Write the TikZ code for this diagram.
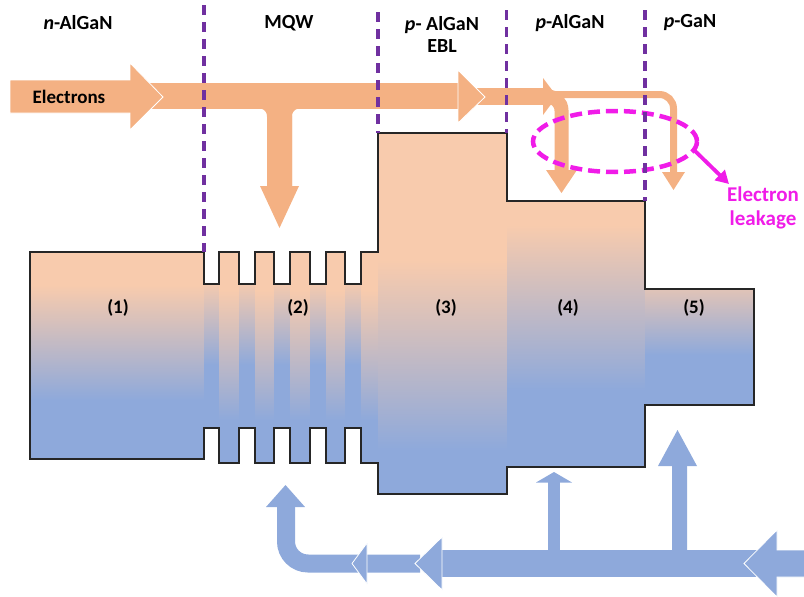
\documentclass[tikz,border=0pt]{standalone}
\usepackage{fontspec}
\setmainfont{Carlito}
\usetikzlibrary{arrows.meta}

\definecolor{peach}{HTML}{F8CBAD}
\definecolor{holeblue}{HTML}{8EA9DB}
\definecolor{elecorange}{HTML}{F4B183}
\definecolor{divpurple}{HTML}{7030A0}
\definecolor{leakpink}{HTML}{F01CE8}

% outline of the band profile (pixel units)
\newcommand{\deviceshape}{(30,252) -- (204,252) -- (204,284) -- (219,284) -- (219,252)
  -- (239,252) -- (239,284) -- (255,284) -- (255,252) -- (274,252) -- (274,284)
  -- (290,284) -- (290,252) -- (310,252) -- (310,284) -- (326,284) -- (326,252)
  -- (345,252) -- (345,284) -- (361,284) -- (361,252) -- (378,252) -- (378,133)
  -- (507,133) -- (507,201) -- (645,201) -- (645,289) -- (754,289) -- (754,405)
  -- (645,405) -- (645,467) -- (507,467) -- (507,494) -- (378,494) -- (378,463)
  -- (361,463) -- (361,428) -- (345,428) -- (345,463) -- (326,463) -- (326,428)
  -- (310,428) -- (310,463) -- (290,463) -- (290,428) -- (274,428) -- (274,463)
  -- (255,463) -- (255,428) -- (239,428) -- (239,463) -- (219,463) -- (219,428)
  -- (204,428) -- (204,459) -- (30,459) -- cycle}

% one column of the peach-to-blue fill: x1, x2, end of peach, start of blue
\newcommand{\gradcol}[4]{%
  \fill[peach] (#1,120) rectangle (#2+0.6,#3);
  \shade[top color=peach, bottom color=holeblue] (#1,#3) rectangle (#2+0.6,#4);
  \fill[holeblue] (#1,#4) rectangle (#2+0.6,500);}

\begin{document}
\begin{tikzpicture}[x=1pt, y=-1pt,
  layer/.style={font=\bfseries\fontsize{20}{22}\selectfont, align=center, text=black},
  regionlbl/.style={font=\bfseries\fontsize{19}{22}\selectfont, text=black},
  divider/.style={divpurple, line width=3.2pt, dash pattern=on 10pt off 7pt},
  eband/.style={elecorange},
  ehead/.style={fill=elecorange, draw=white, line width=0.8pt},
  hband/.style={holeblue},
  hhead/.style={fill=holeblue, draw=white, line width=0.8pt},
  leak/.style={leakpink, line width=4.5pt}]
\useasboundingbox (0,0) rectangle (804,597);

% Band profile
\begin{scope}
\clip \deviceshape;
\gradcol{30}{204}{285}{400}
\gradcol{204}{219}{280}{365}
\gradcol{219}{239}{290}{420}
\gradcol{239}{255}{280}{365}
\gradcol{255}{274}{290}{420}
\gradcol{274}{290}{280}{365}
\gradcol{290}{310}{290}{420}
\gradcol{310}{326}{280}{365}
\gradcol{326}{345}{290}{420}
\gradcol{345}{361}{280}{365}
\gradcol{361}{378}{290}{420}
\gradcol{378}{507}{260}{450}
\gradcol{507}{645}{225}{390}
\gradcol{645}{754}{270}{355}
\end{scope}
\draw[line width=1.9pt, black!85, line join=miter] \deviceshape;

% Layer names
\node[layer] (nalgan) at (78,23) {{\itshape n}-AlGaN};
\node[layer] (mqw) at (289,23) {MQW};
\node[layer] (ebl) at (442,34) {{\itshape p}- AlGaN\\EBL};
\node[layer] (palgan) at (570,23) {{\itshape p}-AlGaN};
\node[layer] (pgan) at (690,23) {{\itshape p}-GaN};

% Region numbers
\node[regionlbl] (r1) at (118,308) {(1)};
\node[regionlbl] (r2) at (298,308) {(2)};
\node[regionlbl] (r3) at (446,308) {(3)};
\node[regionlbl] (r4) at (568,308) {(4)};
\node[regionlbl] (r5) at (694,308) {(5)};

% Electrons
\draw[eband, line width=26pt] (150,96) -- (460,96);
\draw[eband, line width=25pt, rounded corners=20pt] (180,96) -| (279.5,187);
\draw[eband, line width=25pt, rounded corners=20pt] (400,96) -| (279.5,187);
\fill[elecorange] (260,186) -- (299,186) -- (279.5,228) -- cycle;
\filldraw[ehead] (10,80) -- (130,80) -- (130,63) -- (163,97) -- (130,130) -- (130,113) -- (10,113) -- cycle;
\node[font=\bfseries\fontsize{19}{22}\selectfont] (elec) at (69,97) {Electrons};
\draw[eband, line width=17pt] (476,96.5) -- (550,96.5);
\draw[eband, line width=14pt, rounded corners=14pt] (530,96.5) -| (561.5,171);
\fill[elecorange] (543,78) -- (557,96.5) -- (543,115) -- cycle;
\fill[elecorange] (546,170) -- (577,170) -- (561.5,193) -- cycle;
\draw[eband, line width=7pt, rounded corners=14pt] (555,94.5) -| (673.5,173);
\fill[elecorange] (662,172) -- (685,172) -- (673.5,190) -- cycle;
\filldraw[ehead] (458,70) -- (485,97) -- (458,123) -- cycle;

% Holes
\draw[hband, line width=18pt, rounded corners=22pt] (420,563.5) -| (286,507);
\fill[holeblue] (266,507) -- (305,507) -- (285.5,485) -- cycle;
\filldraw[hhead] (367,543) -- (352,563.5) -- (367,584) -- cycle;
\draw[hband, line width=27pt] (440,563.5) -- (762,563.5);
\draw[hband, line width=12pt] (554,560) -- (554,481);
\fill[holeblue] (536,482.5) -- (572,482.5) -- (554,472) -- cycle;
\draw[hband, line width=15pt, rounded corners=15pt] (740,563.5) -| (679.5,465);
\fill[holeblue] (658,466) -- (697,466) -- (677.5,430) -- cycle;
\filldraw[hhead] (442,537) -- (415,563.5) -- (442,590) -- cycle;
\filldraw[hhead] (806,550) -- (777,550) -- (777,530) -- (744,563.5) -- (777,597) -- (777,577) -- (806,577);

% Electron leakage
\draw[leak, dash pattern=on 12pt off 6pt] (615,141.5) ellipse [x radius=82, y radius=30.5];
\coordinate (leakstart) at (694,150);
\node[font=\bfseries\fontsize{21}{24}\selectfont, text=leakpink, align=center] (leaklbl) at (763,208) {Electron\\leakage};
\draw[leak, line width=3.8pt, -{Triangle[length=13pt, width=14pt]}] (leakstart) -- (729,184);

% Layer boundaries
\draw[divider] (204,5) -- (204,252);
\draw[divider] (378,12) -- (378,133);
\draw[divider] (506.5,10) -- (506.5,133);
\draw[divider] (645,10) -- (645,201);
\end{tikzpicture}
\end{document}
